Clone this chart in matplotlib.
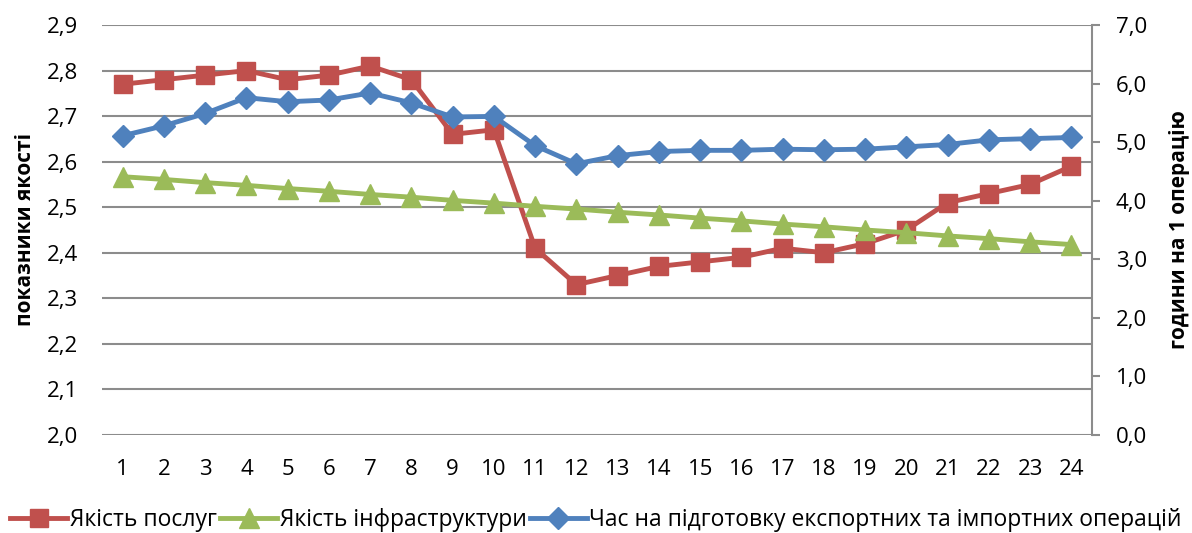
import matplotlib.pyplot as plt
from matplotlib.ticker import FuncFormatter, MultipleLocator
import numpy as np

plt.rcParams['font.family'] = ['Open Sans', 'DejaVu Sans']

# дані
hours = list(range(1, 25))
quality_services = [2.77, 2.78, 2.79, 2.80, 2.78, 2.79, 2.81, 2.78, 2.66, 2.67, 2.41, 2.33,
                    2.35, 2.37, 2.38, 2.39, 2.41, 2.40, 2.42, 2.45, 2.51, 2.53, 2.55, 2.59]
quality_infra = [2.567, 2.561, 2.554, 2.548, 2.541, 2.535, 2.528, 2.522, 2.515, 2.509, 2.502, 2.496,
                 2.489, 2.483, 2.476, 2.470, 2.463, 2.457, 2.450, 2.444, 2.437, 2.431, 2.424, 2.418]
prep_time = [5.11, 5.28, 5.49, 5.76, 5.69, 5.72, 5.84, 5.67, 5.43, 5.44, 4.94, 4.63,
             4.77, 4.84, 4.86, 4.86, 4.88, 4.87, 4.88, 4.92, 4.96, 5.04, 5.06, 5.08]

RED = '#C0504D'
GREEN = '#9BBB59'
BLUE = '#4F81BD'
GRID = '#8C8C8C'

comma = FuncFormatter(lambda v, p: '{:.1f}'.format(v).replace('.', ','))

fig = plt.figure(figsize=(11.92, 5.33), dpi=100)
ax = fig.add_axes([0.0856, 0.184, 0.8305, 0.769])
ax2 = ax.twinx()

l1, = ax.plot(hours, quality_services, color=RED, lw=3.5, marker='s', ms=13,
              label='Якість послуг')
l2, = ax.plot(hours, quality_infra, color=GREEN, lw=3.5, marker='^', ms=14,
              label='Якість інфраструктури')
l3, = ax2.plot(hours, prep_time, color=BLUE, lw=3.5, marker='D', ms=11,
               label='Час на підготовку експортних та імпортних операцій')

ax.set_xlim(0.5, 24.5)
ax.set_ylim(2.0, 2.9)
ax2.set_ylim(0.0, 7.0)
ax.yaxis.set_major_locator(MultipleLocator(0.1))
ax2.yaxis.set_major_locator(MultipleLocator(1.0))
ax.yaxis.set_major_formatter(comma)
ax2.yaxis.set_major_formatter(comma)
ax.set_xticks(hours)

ax.grid(axis='y', color=GRID, lw=1.5)
ax.set_axisbelow(True)
for s in ['top', 'left', 'right', 'bottom']:
    ax.spines[s].set_visible(False)
for s in ['top', 'left', 'bottom']:
    ax2.spines[s].set_visible(False)
ax2.spines['right'].set_color(GRID)
ax2.spines['right'].set_linewidth(1.5)

ax.tick_params(axis='y', length=0, pad=17, labelsize=16)
ax.tick_params(axis='x', length=0, pad=17, labelsize=16)
ax2.tick_params(axis='y', length=6, width=1.5, color=GRID, pad=11, labelsize=16)

ax.set_ylabel('показники якості', fontsize=15, fontweight='bold', labelpad=8)
ax2.set_ylabel('години на 1 операцію', fontsize=15, fontweight='bold', rotation=90, labelpad=16)

fig.legend(handles=[l1, l2, l3], loc='center', bbox_to_anchor=(0.5, 0.025), ncol=3,
           frameon=False, fontsize=16.5, handlelength=2.5, handletextpad=0.1,
           columnspacing=0.15, borderaxespad=0)

fig.savefig('out.png', dpi=100)
